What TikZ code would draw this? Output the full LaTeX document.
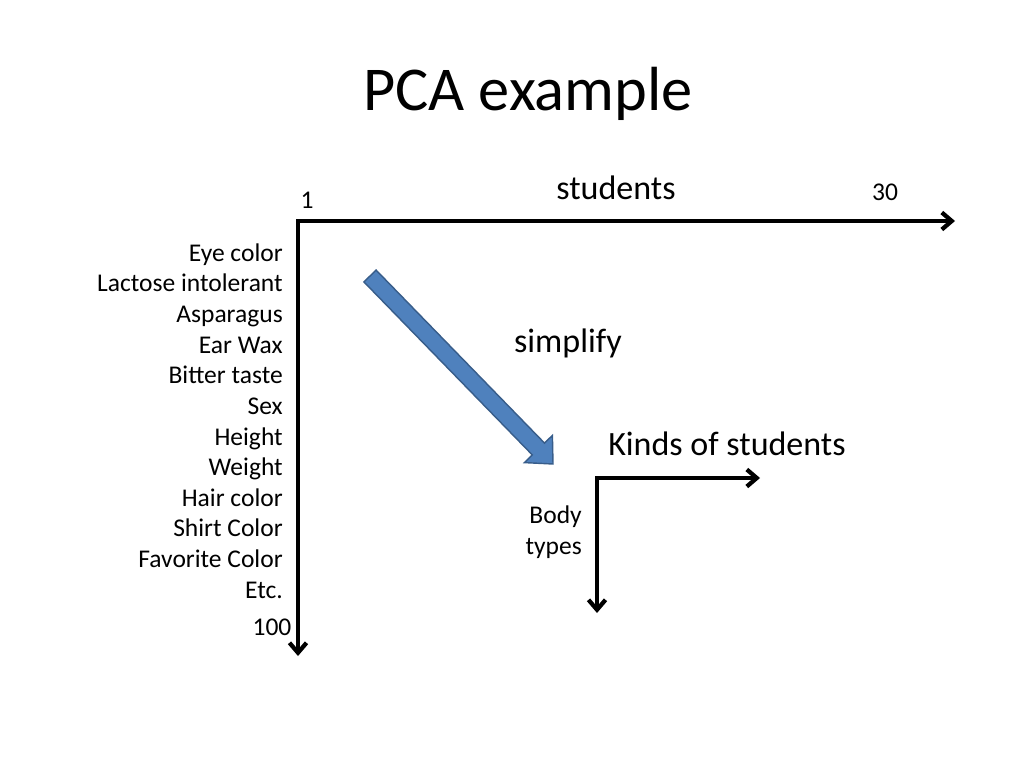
\documentclass[tikz,border=0pt]{standalone}
\usepackage{fontspec}
\setmainfont{Carlito}
\usepackage{xcolor}
\usetikzlibrary{arrows.meta,positioning,calc}
\definecolor{accfill}{HTML}{4F81BD}
\definecolor{accline}{HTML}{385D8A}

\begin{document}
\begin{tikzpicture}[x=0.0248cm, y=-0.0248cm,
  axis/.style={line width=3pt, line join=miter,
               {Straight Barb[length=7pt, width=12pt]}-{Straight Barb[length=7pt, width=12pt]}},
  lab/.style={font=\fontsize{18}{21.6}\selectfont, inner sep=0pt},
  big/.style={font=\fontsize{24}{28}\selectfont, inner sep=0pt}]
\useasboundingbox (0,0) rectangle (1024,768);
\node[font=\fontsize{44}{52}\selectfont, inner sep=0pt] (title) at (528,94) {PCA example};

% big data table axes
\coordinate (o) at (298,221);
\coordinate (xend) at (955,221);
\coordinate (yend) at (298,656);
\draw[axis] (xend) -- (o) -- (yend);
\node[lab] (one) at (307,200) {1};
\node[lab] (thirty) at (885,192) {30};
\node[big] (students) at (616,188) {students};
\node[lab] (hundred) at (272,627) {100};
\node[lab, align=right, anchor=east] (traits) at (283,421)
  {Eye color\\ Lactose intolerant\\ Asparagus\\ Ear Wax\\ Bitter taste\\ Sex\\
   Height\\ Weight\\ Hair color\\ Shirt Color\\ Favorite Color\\ Etc.};

% block arrow
\filldraw[fill=accfill, draw=accline, line width=1pt, line join=miter]
  (376.1,270.1) -- (544.5,443.1) -- (552.4,435.4) -- (553,464)
  -- (524.4,462.6) -- (532.3,454.9) -- (363.9,281.9) -- cycle;
\node[big] (simplify) at (568,343) {simplify};

% reduced axes
\coordinate (o2) at (597,478);
\coordinate (xend2) at (760,478);
\coordinate (yend2) at (597,613);
\draw[axis] (xend2) -- (o2) -- (yend2);
\node[big] (kinds) at (727,444) {Kinds of students};
\node[lab, align=right, anchor=east] (body) at (582,532) {Body\\ types};
\end{tikzpicture}
\end{document}
